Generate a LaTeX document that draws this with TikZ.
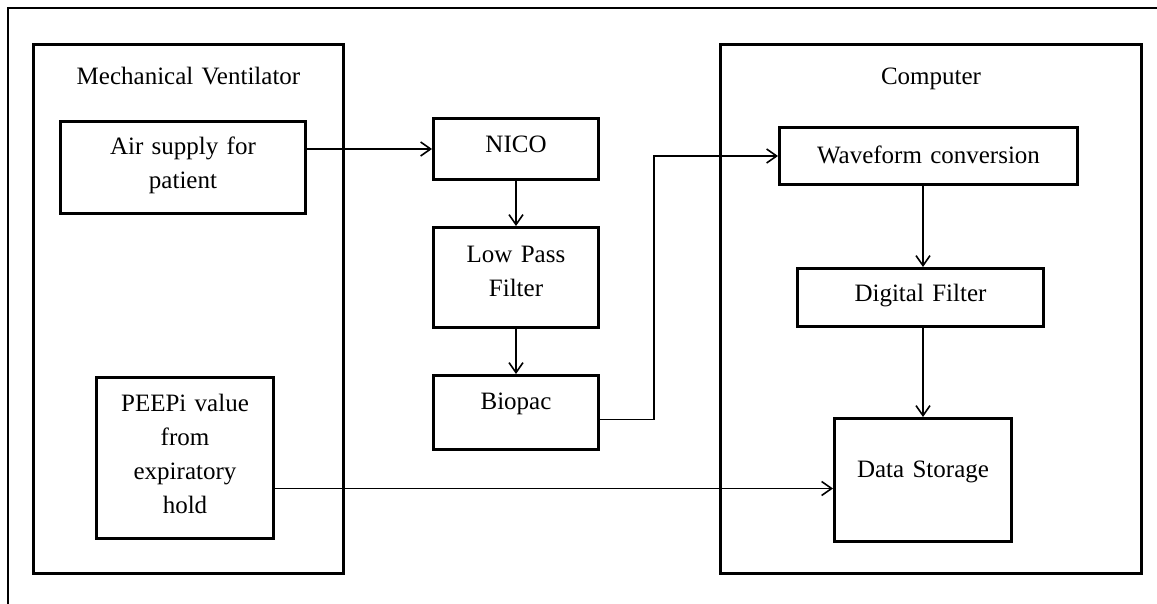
\documentclass[tikz,border=0pt]{standalone}
\usepackage{fontspec}
\setmainfont{Liberation Serif}
\usetikzlibrary{arrows.meta,positioning}

\tikzset{
  blockbox/.style={draw, line width=1.5pt, inner sep=0pt, align=center, anchor=north west},
  conn/.style={line width=0.8pt, -{Straight Barb[length=5pt,width=7pt]}},
}

\begin{document}
\begin{tikzpicture}[x=0.5pt, y=-0.5pt, font=\fontsize{12.5}{17}\selectfont]
\useasboundingbox (0,0) rectangle (1157,604);
\draw[line width=0.8pt] (8,604) -- (8,8) -- (1157,8);

% the two big units
\node[blockbox, text width=155pt, text height=20pt, text depth=244.5pt] (vent) at (32,43) {Mechanical Ventilator};
\node[blockbox, text width=210.5pt, text height=20pt, text depth=244.5pt] (comp) at (719,43) {Computer};

% ventilator side
\node[blockbox, text width=122.5pt, text height=16.5pt, text depth=29.5pt] (air) at (59,120) {Air supply for\\patient};
\node[blockbox, text width=88.5pt, text height=17pt, text depth=63.5pt] (peep) at (95,376) {PEEPi value\\from\\expiratory\\hold};

% signal chain
\node[blockbox, text width=82.5pt, text height=17pt, text depth=13.5pt] (nico) at (432,117) {NICO};
\node[blockbox, text width=82.5pt, text height=17.5pt, text depth=32.5pt] (lpf) at (432,226) {Low Pass\\Filter};
\node[blockbox, text width=82.5pt, text height=17pt, text depth=20pt] (bio) at (432,374) {Biopac};

% computer side
\node[blockbox, text width=149pt, text height=18pt, text depth=10.5pt] (wave) at (778,126) {Waveform conversion};
\node[blockbox, text width=123pt, text height=16.5pt, text depth=12.5pt] (dig) at (796,267) {Digital Filter};
\node[blockbox, text width=88.5pt, text height=29.5pt, text depth=32pt] (data) at (833,417) {Data Storage};

\draw[conn] (air.east |- nico.west) -- (nico.west);
\draw[conn] (nico) -- (lpf);
\draw[conn] (lpf) -- (bio);
\coordinate (bout) at ([yshift=-3.5pt]bio.east);
\draw[conn] (bout) -- ++(54,0) |- (wave.west);
\draw[conn] (wave.south -| data.north) -- (dig.north -| data.north);
\draw[conn] (dig.south -| data.north) -- (data.north);
\coordinate (din) at ([yshift=-4.25pt]data.west);
\draw[conn] (peep.east |- din) -- (din);
\end{tikzpicture}
\end{document}
